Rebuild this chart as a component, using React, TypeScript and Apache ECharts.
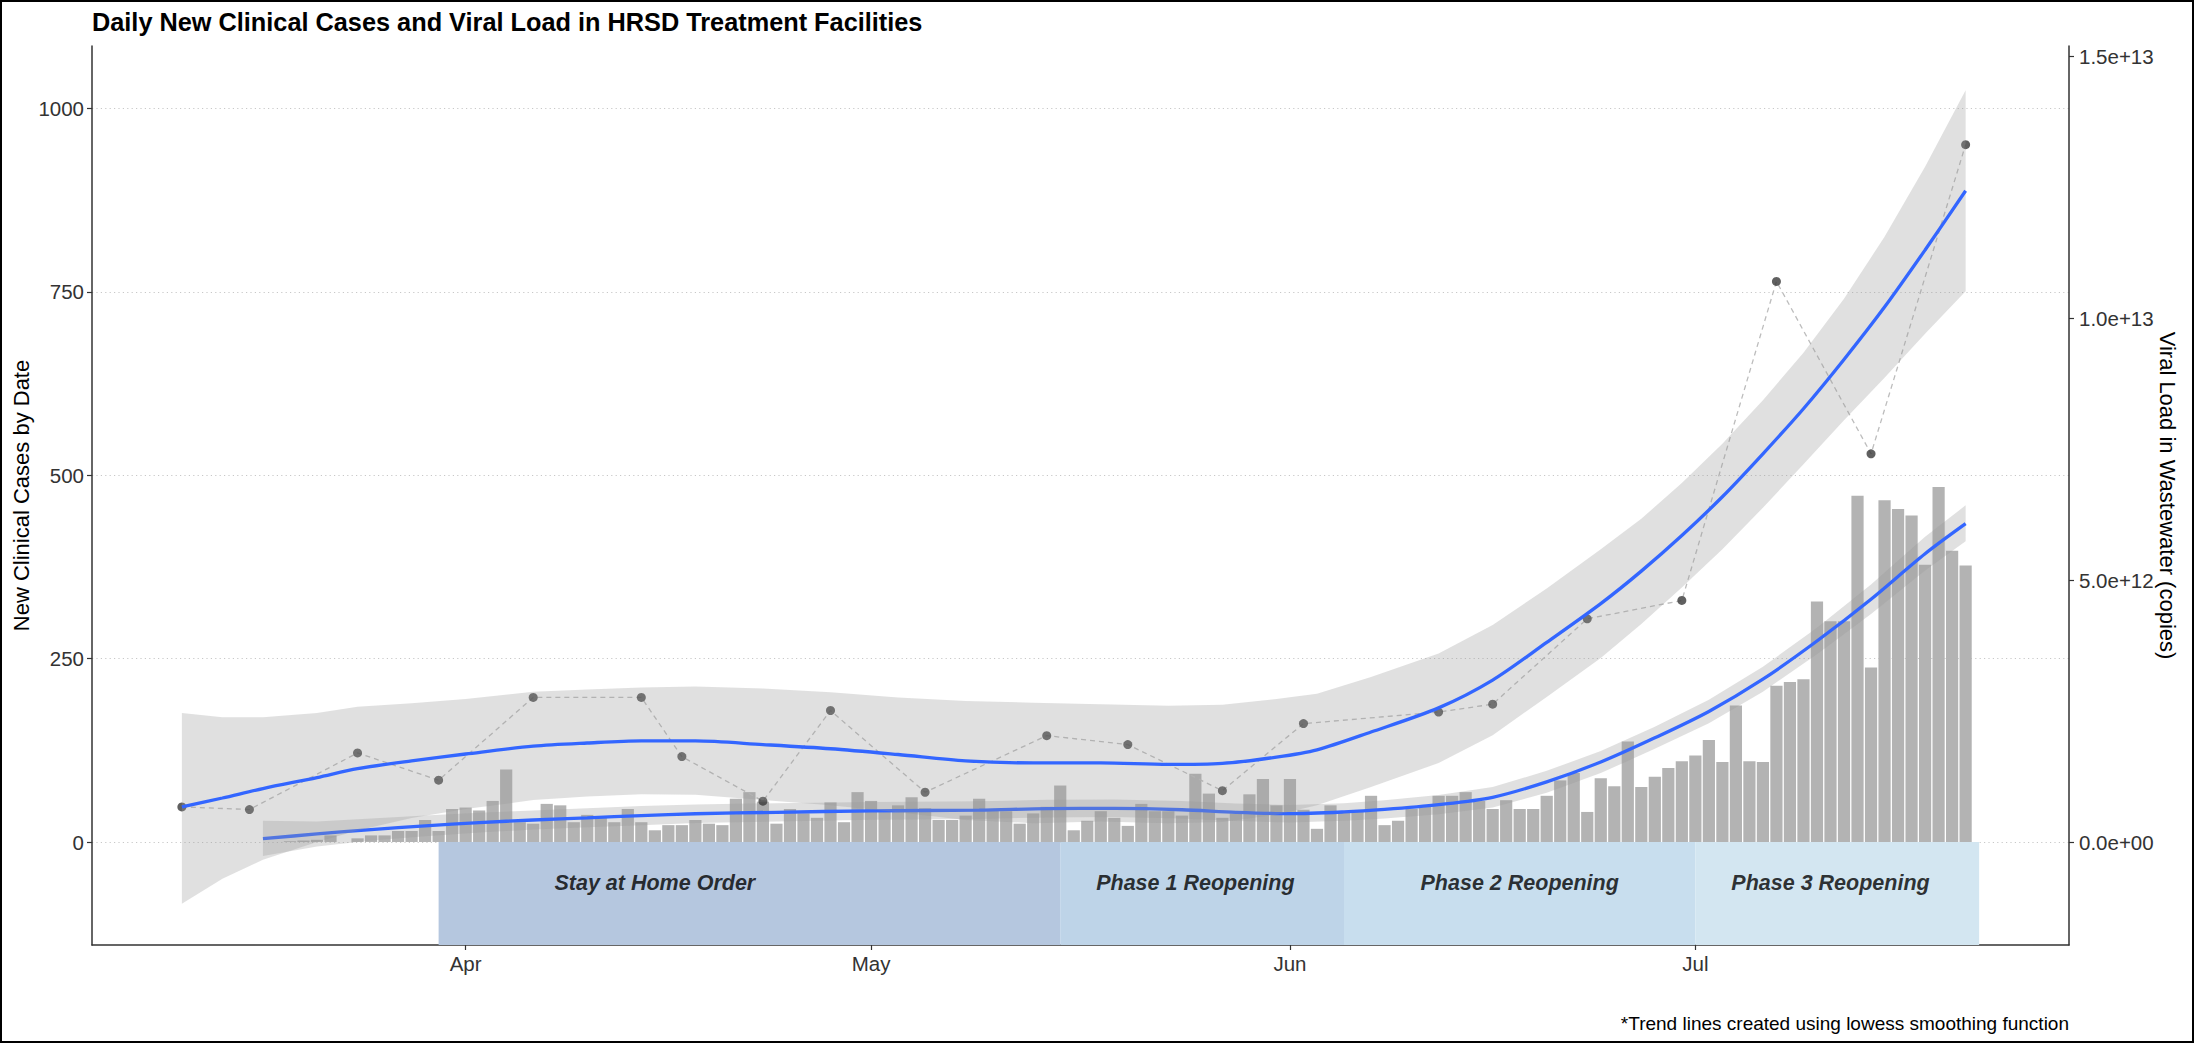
import { useEffect, useRef } from 'react';
import * as echarts from 'echarts';

const FONT = '"Liberation Sans", Arial, Helvetica, sans-serif';
const DAY = 86400000;
const ts = (d: string) => Date.parse(d + 'T00:00:00Z');

// Daily new clinical cases, one value per day from CASES_START onward
const CASES_START = '2020-03-17';
const dailyCases = [
  // Mar 17 - Mar 31
  0, 0, 1, 2, 3, 9, 0, 5, 9, 9, 15, 15, 30, 15, 45,
  // April
  47, 43, 56, 99, 27, 25, 52, 50, 27, 37, 35, 27, 45, 27, 16,
  23, 23, 30, 25, 23, 59, 68, 55, 25, 45, 39, 33, 54, 27, 68,
  // May
  56, 41, 50, 61, 46, 30, 30, 36, 59, 43, 42, 25, 39, 48, 77, 16,
  29, 42, 33, 22, 52, 42, 42, 36, 93, 66, 33, 39, 65, 86, 50,
  // June
  86, 44, 18, 50, 40, 42, 63, 23, 29, 45, 49, 63, 63, 68, 56,
  45, 57, 45, 45, 63, 84, 94, 41, 87, 76, 137, 75, 89, 101, 110,
  // July 1 - 21
  118, 139, 109, 186, 110, 109, 213, 218, 222, 328, 301, 301, 472, 238,
  466, 454, 445, 378, 484, 397, 377,
];

// Viral load samples in wastewater (copies)
const viralDates = [
  '2020-03-11', '2020-03-16', '2020-03-24', '2020-03-30', '2020-04-06', '2020-04-14',
  '2020-04-17', '2020-04-23', '2020-04-28', '2020-05-05', '2020-05-14', '2020-05-20',
  '2020-05-27', '2020-06-02', '2020-06-12', '2020-06-16', '2020-06-23', '2020-06-30',
  '2020-07-07', '2020-07-14', '2020-07-21',
];
const viralCopies = [
  6.7e11, 6.2e11, 1.7e12, 1.18e12, 2.76e12, 2.76e12,
  1.63e12, 7.8e11, 2.51e12, 9.5e11, 2.03e12, 1.86e12,
  9.8e11, 2.26e12, 2.48e12, 2.63e12, 4.26e12, 4.61e12,
  1.07e13, 7.41e12, 1.331e13,
];

// Lowess trend of daily cases with its confidence band
const caseTrendDates = [
  '2020-03-17', '2020-03-21', '2020-03-25', '2020-03-29', '2020-04-02', '2020-04-06',
  '2020-04-10', '2020-04-14', '2020-04-18', '2020-04-24', '2020-05-01', '2020-05-09',
  '2020-05-14', '2020-05-19', '2020-05-24', '2020-05-28', '2020-06-01', '2020-06-05',
  '2020-06-08', '2020-06-12', '2020-06-16', '2020-06-20', '2020-06-24', '2020-06-28',
  '2020-07-02', '2020-07-06', '2020-07-10', '2020-07-14', '2020-07-18', '2020-07-21',
];
const caseTrend = [
  4.5, 11, 17, 22, 26.5, 30, 33, 36, 38.5, 40.5, 42.5, 43.5, 45.5, 45.8, 44,
  40.5, 38.6, 41, 44.5, 51, 61, 82, 109, 142, 178, 222, 274, 331, 393, 434,
];
const caseTrendLow = [
  -19, -6, 2, 8, 13, 17, 20, 23, 26, 28, 30.5, 31.5, 33.5, 34, 32,
  28.5, 26.6, 29, 32, 38, 47, 67, 94, 127, 162, 205, 256, 311, 370, 410,
];
const caseTrendHigh = [
  29, 28, 32, 36, 40, 43, 46, 49, 51, 53, 54.5, 55.5, 57.5, 58, 56,
  52.5, 50.6, 53, 57, 64, 75, 97, 124, 157, 194, 239, 292, 351, 416, 459,
];

// Lowess trend of viral load with its confidence band (trillions of copies)
const viralTrendDates = [
  '2020-03-11', '2020-03-14', '2020-03-17', '2020-03-21', '2020-03-24', '2020-03-28',
  '2020-04-01', '2020-04-06', '2020-04-10', '2020-04-14', '2020-04-18', '2020-04-23',
  '2020-04-28', '2020-05-03', '2020-05-08', '2020-05-13', '2020-05-18', '2020-05-23',
  '2020-05-27', '2020-05-31', '2020-06-03', '2020-06-07', '2020-06-12', '2020-06-16',
  '2020-06-20', '2020-06-24', '2020-06-27', '2020-06-30', '2020-07-03', '2020-07-06',
  '2020-07-09', '2020-07-12', '2020-07-15', '2020-07-18', '2020-07-21',
];
const viralTrend = [
  0.67, 0.84, 1.02, 1.23, 1.40, 1.55, 1.68, 1.83, 1.89, 1.93, 1.93, 1.86,
  1.78, 1.67, 1.55, 1.51, 1.51, 1.48, 1.50, 1.62, 1.76, 2.10, 2.56, 3.09,
  3.81, 4.55, 5.17, 5.85, 6.59, 7.41, 8.27, 9.21, 10.21, 11.30, 12.43,
];
const viralTrendLow = [
  -1.18, -0.70, -0.34, 0.00, 0.22, 0.46, 0.63, 0.80, 0.87, 0.91, 0.90, 0.80,
  0.70, 0.57, 0.42, 0.36, 0.39, 0.36, 0.38, 0.52, 0.70, 1.05, 1.51, 2.04,
  2.77, 3.51, 4.16, 4.86, 5.59, 6.38, 7.21, 8.05, 8.86, 9.70, 10.51,
];
const viralTrendHigh = [
  2.46, 2.38, 2.38, 2.46, 2.58, 2.65, 2.73, 2.87, 2.91, 2.95, 2.97, 2.93,
  2.86, 2.76, 2.69, 2.66, 2.63, 2.60, 2.62, 2.73, 2.83, 3.15, 3.60, 4.14,
  4.84, 5.59, 6.17, 6.85, 7.60, 8.43, 9.34, 10.37, 11.55, 12.89, 14.35,
];
const TRILLION = 1e12;

// Reopening phases
const phaseNames = ['Stay at Home Order', 'Phase 1 Reopening', 'Phase 2 Reopening', 'Phase 3 Reopening'];
const phaseStarts = ['2020-03-30', '2020-05-15', '2020-06-05', '2020-07-01'];
const phaseEnds = ['2020-05-15', '2020-06-05', '2020-07-01', '2020-07-22'];
const phaseLabelDates = ['2020-04-15', '2020-05-25', '2020-06-18', '2020-07-11'];
const PHASE_LABEL_Y = -56;
const phaseColors = ['#B5C7DF', '#BED4E8', '#C8DEEE', '#D3E6F1'];

// Axis ticks
const caseTicks = [0, 250, 500, 750, 1000];
const viralTicks = [0, 5e12, 1e13, 1.5e13];
const monthTicks = ['2020-04-01', '2020-05-01', '2020-06-01', '2020-07-01'];
const monthLabels = ['Apr', 'May', 'Jun', 'Jul'];

// Secondary axis: copies per case unit
const COPIES_PER_CASE = 1.4e10;
const CASE_MIN = -140.4;
const CASE_MAX = 1085.2;
const X_MIN = ts('2020-03-11') - 6.65 * DAY;
const X_MAX = ts('2020-07-22') + 6.65 * DAY;

const sci = (v: number) => {
  const [m, e] = v.toExponential(1).split('e');
  const sign = e[0];
  const digits = e.slice(1).padStart(2, '0');
  return `${m}e${sign}${digits}`;
};

const BAND_FILL = 'rgba(153,153,153,0.3)';
const TREND_BLUE = '#3366FF';

function bandSeries(dates: string[], low: number[], high: number[], yAxisIndex: number, scale: number, z: number) {
  const pts = dates.map((d, i) => [ts(d), low[i] * scale, high[i] * scale]);
  return {
    type: 'custom',
    yAxisIndex,
    z,
    silent: true,
    clip: true,
    data: pts,
    encode: { x: 0, y: [1, 2] },
    renderItem: (params: any, api: any) => {
      if (params.dataIndex !== 0) return null;
      const upper = pts.map((p) => api.coord([p[0], p[2]]));
      const lower = pts.map((p) => api.coord([p[0], p[1]])).reverse();
      return {
        type: 'polygon',
        shape: { points: upper.concat(lower) },
        style: { fill: BAND_FILL },
      };
    },
  };
}

export default function App() {
  const ref = useRef<HTMLDivElement>(null);

  useEffect(() => {
    if (!ref.current) return;
    const chart = echarts.init(ref.current, undefined, { renderer: 'svg' });
    const startTs = ts(CASES_START);
    const monthTs = monthTicks.map(ts);
    const axisColor = '#333333';
    const tickFont = { fontSize: 20.5, color: '#333333', fontFamily: FONT };

    chart.setOption({
      animation: false,
      backgroundColor: '#ffffff',
      title: {
        text: 'Daily New Clinical Cases and Viral Load in HRSD Treatment Facilities',
        left: 92,
        top: 9,
        padding: 0,
        textStyle: { fontSize: 25.3, fontWeight: 'bold', color: '#000', fontFamily: FONT },
      },
      grid: { left: 92, right: 125, top: 46, bottom: 98, containLabel: false, outerBoundsMode: 'none' },
      xAxis: {
        type: 'value',
        min: X_MIN,
        max: X_MAX,
        axisLine: { show: true, onZero: false, lineStyle: { color: axisColor, width: 1.5 } },
        axisTick: { show: true, length: 5, customValues: monthTs, lineStyle: { color: axisColor, width: 1.2 } },
        axisLabel: {
          ...tickFont,
          margin: 8,
          customValues: monthTs,
          formatter: (v: number) => {
            const i = monthTs.indexOf(v);
            return i >= 0 ? monthLabels[i] : '';
          },
        },
        splitLine: { show: false },
      },
      yAxis: [
        {
          type: 'value',
          position: 'left',
          min: CASE_MIN,
          max: CASE_MAX,
          name: 'New Clinical Cases by Date',
          nameLocation: 'middle',
          nameGap: 60,
          nameMoveOverlap: false,
          nameTextStyle: { fontSize: 22, color: '#000', fontFamily: FONT },
          axisLine: { show: true, lineStyle: { color: axisColor, width: 1.5 } },
          axisTick: { show: true, length: 5, customValues: caseTicks, lineStyle: { color: axisColor, width: 1.2 } },
          axisLabel: { ...tickFont, margin: 8, customValues: caseTicks, formatter: (v: number) => String(v) },
          splitLine: { show: true, lineStyle: { color: '#C8C8C8', width: 1.2, type: [1.2, 3.2] } },
        },
        {
          type: 'value',
          position: 'right',
          min: CASE_MIN * COPIES_PER_CASE,
          max: CASE_MAX * COPIES_PER_CASE,
          name: 'Viral Load in Wastewater (copies)',
          nameLocation: 'middle',
          nameRotate: -90,
          nameGap: 87,
          nameMoveOverlap: false,
          nameTextStyle: { fontSize: 22, color: '#000', fontFamily: FONT },
          axisLine: { show: true, lineStyle: { color: axisColor, width: 1.5 } },
          axisTick: { show: true, length: 5, customValues: viralTicks, lineStyle: { color: axisColor, width: 1.2 } },
          axisLabel: { ...tickFont, margin: 10, customValues: viralTicks, formatter: (v: number) => sci(v) },
          splitLine: { show: false },
        },
      ],
      graphic: [
        {
          type: 'rect',
          silent: true,
          shape: { x: 1, y: 1, width: 2192, height: 1041 },
          style: { fill: 'none', stroke: '#000', lineWidth: 2 },
        },
        {
          type: 'text',
          silent: true,
          x: 2069,
          y: 1023,
          style: {
            text: '*Trend lines created using lowess smoothing function',
            font: `19px ${FONT}`,
            fill: '#000',
            align: 'right',
            verticalAlign: 'middle',
            textAlign: 'right',
            textVerticalAlign: 'middle',
          },
        },
      ],
      series: [
        {
          type: 'bar',
          name: 'cases',
          yAxisIndex: 0,
          z: 2,
          barWidth: 12.2,
          itemStyle: { color: '#B3B3B3' },
          data: dailyCases.map((v, i) => [startTs + i * DAY, v]),
          markArea: {
            silent: true,
            z: 1,
            data: phaseStarts.map((s, i) => [
              { xAxis: ts(s), yAxis: CASE_MIN, itemStyle: { color: phaseColors[i] } },
              { xAxis: ts(phaseEnds[i]), yAxis: 0 },
            ]),
          },
        },
        bandSeries(caseTrendDates, caseTrendLow, caseTrendHigh, 0, 1, 3),
        {
          type: 'line',
          name: 'case trend',
          yAxisIndex: 0,
          z: 4,
          showSymbol: false,
          smooth: 0.3,
          lineStyle: { color: TREND_BLUE, width: 3.3 },
          data: caseTrendDates.map((d, i) => [ts(d), caseTrend[i]]),
        },
        {
          type: 'line',
          name: 'viral load path',
          yAxisIndex: 1,
          z: 5,
          showSymbol: false,
          lineStyle: { color: '#BDBDBD', width: 1.3, type: [5, 4] },
          data: viralDates.map((d, i) => [ts(d), viralCopies[i]]),
        },
        {
          type: 'scatter',
          name: 'viral load',
          yAxisIndex: 1,
          z: 5,
          symbolSize: 9,
          itemStyle: { color: '#383838' },
          data: viralDates.map((d, i) => [ts(d), viralCopies[i]]),
        },
        bandSeries(viralTrendDates, viralTrendLow, viralTrendHigh, 1, TRILLION, 6),
        {
          type: 'line',
          name: 'viral trend',
          yAxisIndex: 1,
          z: 7,
          showSymbol: false,
          smooth: 0.3,
          lineStyle: { color: TREND_BLUE, width: 3.3 },
          data: viralTrendDates.map((d, i) => [ts(d), viralTrend[i] * TRILLION]),
        },
        {
          type: 'scatter',
          name: 'phases',
          yAxisIndex: 0,
          z: 8,
          silent: true,
          symbolSize: 1,
          itemStyle: { color: 'rgba(0,0,0,0)' },
          label: {
            show: true,
            position: 'inside',
            formatter: (p: any) => p.data[2],
            fontSize: 21.5,
            fontWeight: 'bold',
            fontStyle: 'italic',
            color: '#000',
            fontFamily: FONT,
          },
          data: phaseLabelDates.map((d, i) => [ts(d), PHASE_LABEL_Y, phaseNames[i]]),
        },
      ],
    });

    return () => chart.dispose();
  }, []);

  return (
    <div
      ref={ref}
      style={{ position: 'fixed', left: 0, top: 0, width: 2194, height: 1043, background: '#fff' }}
    />
  );
}
